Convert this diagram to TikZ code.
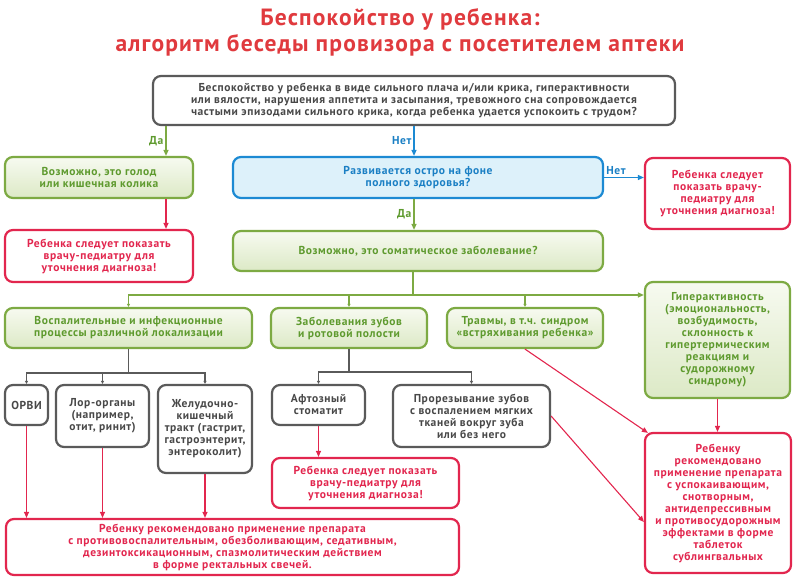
\documentclass[tikz,border=0pt]{standalone}
\usepackage{fontspec}
\newfontfamily\bodyfont[LetterSpace=5]{PT Sans}
\newfontfamily\titlefont[LetterSpace=5]{PT Sans}
\usetikzlibrary{arrows.meta}
\definecolor{ttlred}  {HTML}{E03A3E}
\definecolor{grnline} {HTML}{7DAA43}
\definecolor{grntext} {HTML}{5E9A2E}
\definecolor{grnfillA}{HTML}{F7FAF0}
\definecolor{grnfillB}{HTML}{DCE9C6}
\definecolor{bluline} {HTML}{1C8AD3}
\definecolor{blutext} {HTML}{1A7FC4}
\definecolor{blufill} {HTML}{DDF1FA}
\definecolor{redline} {HTML}{E2264E}
\definecolor{gryline} {HTML}{5A5A5A}
\definecolor{grytext} {HTML}{484848}

\tikzset{
  box/.style    ={rectangle,rounded corners=8pt,line width=2.2pt,align=center,inner sep=1pt,
                  font=\bodyfont\bfseries\fontsize{11.5}{12}\selectfont},
  grnbox/.style ={box,draw=grnline,top color=grnfillA,bottom color=grnfillB,text=grntext},
  blubox/.style ={box,draw=bluline,fill=blufill,text=blutext},
  redbox/.style ={box,draw=redline,fill=white,text=redline},
  grybox/.style ={box,draw=gryline,fill=white,text=grytext},
  tip/.style    ={-{Triangle[length=6pt,width=5pt]}},
  smalltip/.style={-{Triangle[length=3pt,width=3pt]}},
  glink/.style  ={line width=1.3pt,draw=grnline},
  blink/.style  ={line width=1.3pt,draw=bluline},
  rlink/.style  ={line width=1.1pt,draw=redline},
  ylink/.style  ={line width=1.3pt,draw=gryline},
  answer/.style ={font=\bodyfont\bfseries\fontsize{11.5}{12}\selectfont,inner sep=2pt},
}

\begin{document}
\begin{tikzpicture}[x=1pt,y=-1pt]
  \useasboundingbox (0,0) rectangle (800,580);

  %% title
  %% ------------------------------------
  \node[font=\titlefont\bfseries\fontsize{23.5}{26}\selectfont,text=ttlred,align=center] (title) at (400,32)
       {Беспокойство у ребенка:\\алгоритм беседы провизора с посетителем аптеки};

  %% questions
  %% ------------------------------------
  \node[grybox,minimum width=522pt,minimum height=49pt] (q1) at (414,100.5)
       {Беспокойство у ребенка в виде сильного плача и/или крика, гиперактивности\\
        или вялости, нарушения аппетита и засыпания, тревожного сна сопровождается\\
        частыми эпизодами сильного крика, когда ребенка удается успокоить с трудом?};
  \node[grnbox,minimum width=188pt,minimum height=41pt] (hunger) at (99,177.5)
       {Возможно, это голод\\или кишечная колика};
  \node[blubox,minimum width=370pt,minimum height=41pt] (acute) at (418,177.5)
       {Развивается остро на фоне\\полного здоровья?};
  \node[redbox,minimum width=188pt,minimum height=52pt] (docA) at (99,256)
       {Ребенка следует показать\\врачу-педиатру для\\уточнения диагноза!};
  \node[redbox,minimum width=145pt,minimum height=71pt] (docB) at (717.5,193.5)
       {Ребенка следует\\показать врачу-\\педиатру для\\уточнения диагноза!};
  \node[grnbox,minimum width=370pt,minimum height=40pt] (somatic) at (418,251)
       {Возможно, это соматическое заболевание?};

  %% groups of diseases
  %% ------------------------------------
  \node[grnbox,minimum width=247pt,minimum height=40pt] (inflam) at (128.5,328)
       {Воспалительные и инфекционные\\процессы различной локализации};
  \node[grnbox,minimum width=156pt,minimum height=40pt] (teeth) at (349,328)
       {Заболевания зубов\\и ротовой полости};
  \node[grnbox,minimum width=156pt,minimum height=40pt] (trauma) at (525,328)
       {Травмы, в т.ч. синдром\\«встряхивания ребенка»};
  \node[grnbox,minimum width=145pt,minimum height=116pt] (hyper) at (717.5,340)
       {Гиперактивность\\(эмоциональность,\\возбудимость,\\склонность к\\гипертермическим\\
        реакциям и\\судорожному\\синдрому)};

  %% single diseases
  %% ------------------------------------
  \node[grybox,minimum width=43pt,minimum height=40pt] (orvi) at (26.5,405) {ОРВИ};
  \node[grybox,minimum width=93pt,minimum height=62pt] (lor) at (102.5,416)
       {Лор-органы\\(например,\\отит, ринит)};
  \node[grybox,minimum width=94pt,minimum height=88pt] (gut) at (205,429)
       {Желудочно-\\кишечный\\тракт (гастрит,\\гастроэнтерит,\\энтероколит)};
  \node[grybox,minimum width=93pt,minimum height=40pt] (aphtha) at (318.5,405)
       {Афтозный\\стоматит};
  \node[grybox,minimum width=157pt,minimum height=62pt] (teething) at (471.5,416)
       {Прорезывание зубов\\с воспалением мягких\\тканей вокруг зуба\\или без него};

  %% advice
  %% ------------------------------------
  \node[redbox,minimum width=187pt,minimum height=50pt] (docC) at (365.5,483)
       {Ребенка следует показать\\врачу-педиатру для\\уточнения диагноза!};
  \node[redbox,minimum width=453pt,minimum height=56pt] (rectal) at (232.5,547)
       {Ребенку рекомендовано применение препарата\\
        с противовоспалительным, обезболивающим, седативным,\\
        дезинтоксикационным, спазмолитическим действием\\
        в форме ректальных свечей.};
  \node[redbox,minimum width=146pt,minimum height=140pt] (sublin) at (718,503)
       {Ребенку\\рекомендовано\\применение препарата\\с успокаивающим,\\снотворным,\\
        антидепрессивным\\и противосудорожным\\эффектами в форме\\таблеток\\сублингвальных};

  %% connectors: answers
  %% ------------------------------------
  \coordinate (yesx) at (166,0);
  \draw[glink,tip] (q1.south -| yesx) -- node[answer,left,text=grntext]{Да} (hunger.north -| yesx);
  \draw[rlink,tip] (hunger.south -| yesx) -- (docA.north -| yesx);
  \draw[blink,tip] (q1.south) -- node[answer,left,text=blutext]{Нет} (q1.south |- acute.north);
  \draw[blink,tip] (acute.east) -- node[answer,above,pos=.3,text=blutext]{Нет} (acute.east -| docB.west);
  \draw[glink,tip] (acute.south -| q1.south) -- node[answer,left,text=grntext]{Да} (somatic.north -| q1.south);

  %% connectors: buses
  %% ------------------------------------
  \coordinate (gbus) at (413,295);
  \draw[glink] (somatic.south -| gbus) -- (gbus);
  \draw[glink,smalltip] (gbus) -| (inflam.north);
  \draw[glink,smalltip] (gbus) -| (teeth.north);
  \draw[glink,smalltip] (gbus) -| (trauma.north);
  \draw[glink,tip]      (gbus) -- (gbus -| hyper.west);

  \coordinate (ibus) at (128.5,373);
  \draw[ylink] (inflam.south) -- (ibus);
  \draw[ylink,smalltip] (ibus) -| (orvi.north);
  \draw[ylink,smalltip] (ibus) -| (lor.north);
  \draw[ylink,smalltip] (ibus) -| (gut.north);

  \coordinate (tbus) at (349,372);
  \draw[ylink] (teeth.south) -- (tbus);
  \draw[ylink,smalltip] (tbus) -| (aphtha.north);
  \draw[ylink,smalltip] (tbus) -| (teething.north);

  %% connectors: to advice
  %% ------------------------------------
  \draw[rlink,tip] (orvi.south)   -- (orvi.south |- rectal.north);
  \draw[rlink,tip] (lor.south)    -- (lor.south |- rectal.north);
  \draw[rlink,tip] (gut.south)    -- (gut.south |- rectal.north);
  \draw[rlink,tip] (aphtha.south) -- (aphtha.south |- docC.north);
  \draw[rlink,tip] (trauma.south) -- ([xshift=4pt,yshift=-1pt]sublin.north west);
  \draw[rlink,tip] (teething.east) -- ([yshift=-19pt]sublin.west);
  \draw[rlink,tip] (hyper.south)  -- (hyper.south |- sublin.north);

\end{tikzpicture}
\end{document}
